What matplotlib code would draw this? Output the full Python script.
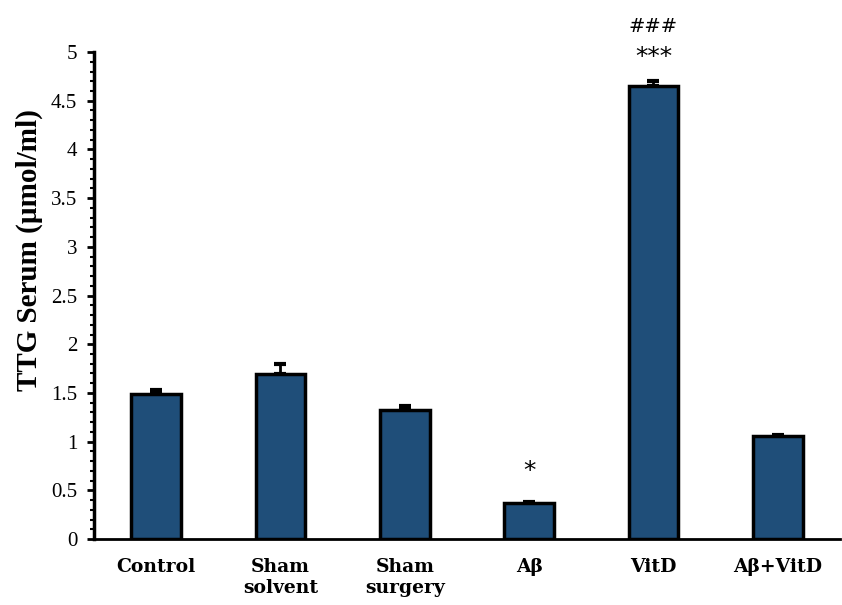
import numpy as np
import matplotlib.pyplot as plt

# Data
groups = ["Control", "Sham\nsolvent", "Sham\nsurgery", "Aβ", "VitD", "Aβ+VitD"]
means = [1.49, 1.69, 1.32, 0.37, 4.65, 1.06]
sems = [0.04, 0.11, 0.05, 0.01, 0.05, 0.01]
marks = ["", "", "", "*", "***", ""]
marks2 = ["", "", "", "", "###", ""]
mark_y = [0, 0, 0, 0.70, 4.95, 0]
mark2_y = [0, 0, 0, 0, 5.26, 0]

fig = plt.figure(figsize=(8.42, 6.05), dpi=100)
ax = fig.add_axes([0.1116, 0.109, 0.886, 0.805])

x = np.arange(len(groups))
ax.bar(x, means, width=0.4, color="#1f4e79", edgecolor="black", linewidth=2.5,
       zorder=2)
ax.errorbar(x, means, yerr=[np.zeros(len(sems)), sems], fmt="none",
            ecolor="black", elinewidth=2, capsize=4.5, capthick=3, zorder=1)

for xi, m, y in zip(x, marks, mark_y):
    if m:
        ax.text(xi, y, m, ha="center", va="center", fontsize=18,
                family="DejaVu Sans")
for xi, m, y in zip(x, marks2, mark2_y):
    if m:
        ax.text(xi, y, m, ha="center", va="center", fontsize=14,
                family="DejaVu Sans", clip_on=False)

ax.set_xlim(-0.5, 5.5)
ax.set_ylim(0, 5)
ax.set_yticks(np.arange(0, 5.01, 0.5))
ax.set_yticklabels(["0", "0.5", "1", "1.5", "2", "2.5", "3", "3.5", "4",
                    "4.5", "5"], family="Liberation Serif", fontsize=15)
ax.set_yticks(np.arange(0, 5.01, 0.1), minor=True)
ax.set_xticks(x)
ax.set_xticklabels(groups, family="DejaVu Serif", fontweight="bold",
                   fontsize=13.5, linespacing=1.2, va="top")
ax.tick_params(axis="x", length=0, pad=14)
ax.tick_params(axis="y", which="major", length=5, width=2, direction="out",
               pad=7)
ax.tick_params(axis="y", which="minor", length=3, width=1.5, direction="out")

for s in ["top", "right"]:
    ax.spines[s].set_visible(False)
ax.spines["left"].set_linewidth(2.5)
ax.spines["bottom"].set_linewidth(2)

fig.text(29 / 842, 1 - 250 / 605, "TTG Serum (µmol/ml)",
         family="Liberation Serif", fontweight="bold", fontsize=21,
         rotation=90, ha="center", va="center")

fig.savefig("out.png", dpi=100)
